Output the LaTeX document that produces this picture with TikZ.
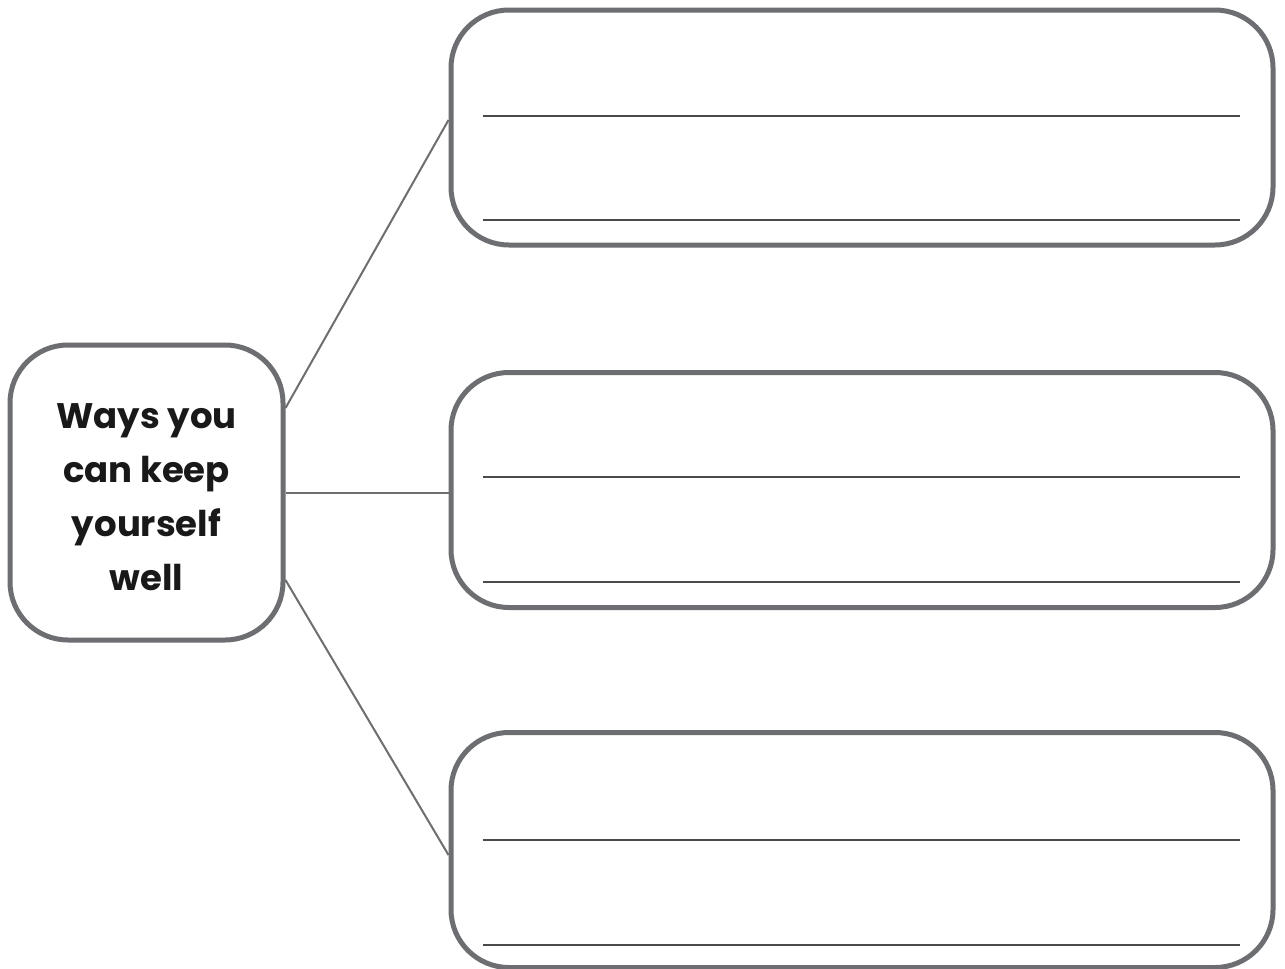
\documentclass[tikz,border=0pt]{standalone}
\usepackage{fontspec}
\newfontfamily\titlefont{Poppins}[UprightFont=* Bold]
\begin{document}
\begin{tikzpicture}[x=1pt,y=-1pt,
  frame/.style={draw=boxgray,line width=5pt,rounded corners=58pt,inner sep=0pt,fill=white},
  link/.style={draw=boxgray,line width=2pt},
  rule/.style={draw=rulegray,line width=1.5pt}]
\definecolor{boxgray}{HTML}{6D6E71}
\definecolor{rulegray}{HTML}{4A4A4C}
\useasboundingbox[fill=white] (0,0) rectangle (1285,969);
\node[frame,minimum width=273pt,minimum height=295pt] (c) at (146.5,492.5) {};
\node[align=center,font=\titlefont\fontsize{35.5}{54}\selectfont,text=black!90] (t) at (146.5,497) {Ways you\\can keep\\yourself\\well};
\node[frame,minimum width=822pt,minimum height=235pt] (b1) at (862,127.5) {};
\node[frame,minimum width=822pt,minimum height=235pt] (b2) at (862,490) {};
\node[frame,minimum width=822pt,minimum height=235pt] (b3) at (862,850) {};
\draw[link] ([yshift=84.5pt]c.east) -- ([yshift=7.5pt]b1.west);
\draw[link] (c.east) -- (c.east -| b2.west);
\draw[link] ([yshift=-87.5pt]c.east) -- ([yshift=-5pt]b3.west);
\foreach \b/\u/\d in {b1/11.5/-92.5, b2/13/-92, b3/10/-95}{
  \draw[rule] ([shift={(34pt,\u pt)}]\b.west) -- ([shift={(-36pt,\u pt)}]\b.east);
  \draw[rule] ([shift={(34pt,\d pt)}]\b.west) -- ([shift={(-36pt,\d pt)}]\b.east);
}
\end{tikzpicture}
\end{document}
